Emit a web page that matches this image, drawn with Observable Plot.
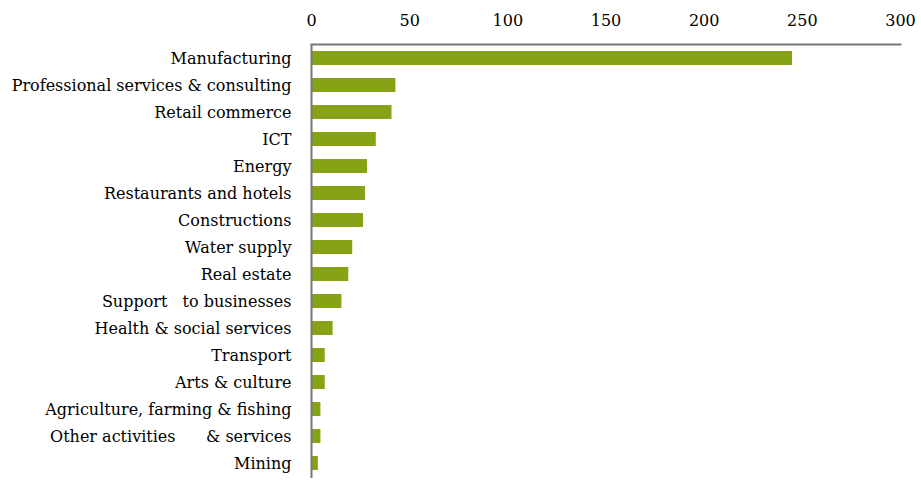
<!DOCTYPE html>
<html><head><meta charset="utf-8">
<script src="https://cdn.jsdelivr.net/npm/d3@7"></script>
<script src="https://cdn.jsdelivr.net/npm/@observablehq/plot@0.6"></script>
<style>
body{margin:0;background:#fff;}
svg text{white-space:pre;}
</style>
</head><body><div id="chart"></div>
<script>
const sectors = ["Manufacturing","Professional services & consulting","Retail commerce","ICT","Energy","Restaurants and hotels","Constructions","Water supply","Real estate","Support   to businesses","Health & social services","Transport","Arts & culture","Agriculture, farming & fishing","Other activities      & services","Mining"];
const counts = [245,43,41,33,28.5,27.5,26.5,21,19,15.5,11,7,7,4.8,4.8,3.5];
const xTicks = [0,50,100,150,200,250,300];
const data = sectors.map((s,i)=>({sector:s, value:counts[i]}));
const chart = Plot.plot({
  width:921, height:480,
  marginTop:44, marginLeft:311, marginRight:21, marginBottom:2,
  style:{fontFamily:"'DejaVu Serif', serif", fontSize:"16px", color:"#000", background:"#fff"},
  x:{domain:[0,300], ticks:xTicks, axis:"top", tickSize:0, tickPadding:19, label:null},
  y:{domain:sectors, paddingInner:0.48, paddingOuter:0.22, label:null, tickSize:0, tickPadding:20},
  marks:[
    Plot.barX(data,{x:"value", y:"sector", fill:"#86a316", inset:0}),
    Plot.frame({anchor:"top", stroke:"#777", strokeWidth:2}),
    Plot.ruleX([0],{stroke:"#777", strokeWidth:2})
  ]
});
document.getElementById("chart").appendChild(chart);
</script></body></html>
